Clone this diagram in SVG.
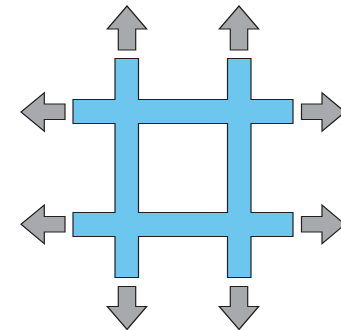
<svg xmlns="http://www.w3.org/2000/svg" width="341" height="330" viewBox="0 0 341 330">
<style>
.grid{fill:#6cc6ee;stroke:#231f20;stroke-width:1.2;fill-rule:evenodd;stroke-linejoin:miter}
.arr{fill:#a7a9ac;stroke:#231f20;stroke-width:1.2;stroke-linejoin:miter}
</style>
<rect width="341" height="330" fill="#ffffff"/>
<g id="grid">
<path class="grid" d="M115,58.5 H138.5 V99.5 H227.5 V58.5 H251 V99.5 H293 V123.5 H251 V212.5 H293 V236.5 H251 V277.5 H227.5 V236.5 H138.5 V277.5 H115 V236.5 H73 V212.5 H115 V123.5 H73 V99.5 H115 Z M138.5,123.5 H227.5 V212.5 H138.5 Z"/>
</g>
<g id="arrow-up-left"><polygon class="arr" points="127,6 146.7,29 135.7,29 135.7,50 118.3,50 118.3,29 107.3,29"/></g>
<g id="arrow-up-right"><polygon class="arr" points="239,6 258.7,29 247.7,29 247.7,50 230.3,50 230.3,29 219.3,29"/></g>
<g id="arrow-down-left"><polygon class="arr" points="127,329.5 146.7,306.5 135.7,306.5 135.7,286.5 118.3,286.5 118.3,306.5 107.3,306.5"/></g>
<g id="arrow-down-right"><polygon class="arr" points="239,329.5 258.7,306.5 247.7,306.5 247.7,286.5 230.3,286.5 230.3,306.5 219.3,306.5"/></g>
<g id="arrow-left-top"><polygon class="arr" points="21,112 44.3,92.7 44.3,104 65,104 65,119.5 44.3,119.5 44.3,131.3"/></g>
<g id="arrow-left-bottom"><polygon class="arr" points="21,224.3 44.3,205 44.3,216.5 65,216.5 65,232 44.3,232 44.3,243.7"/></g>
<g id="arrow-right-top"><polygon class="arr" points="345,112 322,92.7 322,104 301.5,104 301.5,119.5 322,119.5 322,131.3"/></g>
<g id="arrow-right-bottom"><polygon class="arr" points="345,224.3 322,205 322,216.5 301.5,216.5 301.5,232 322,232 322,243.7"/></g>
</svg>
